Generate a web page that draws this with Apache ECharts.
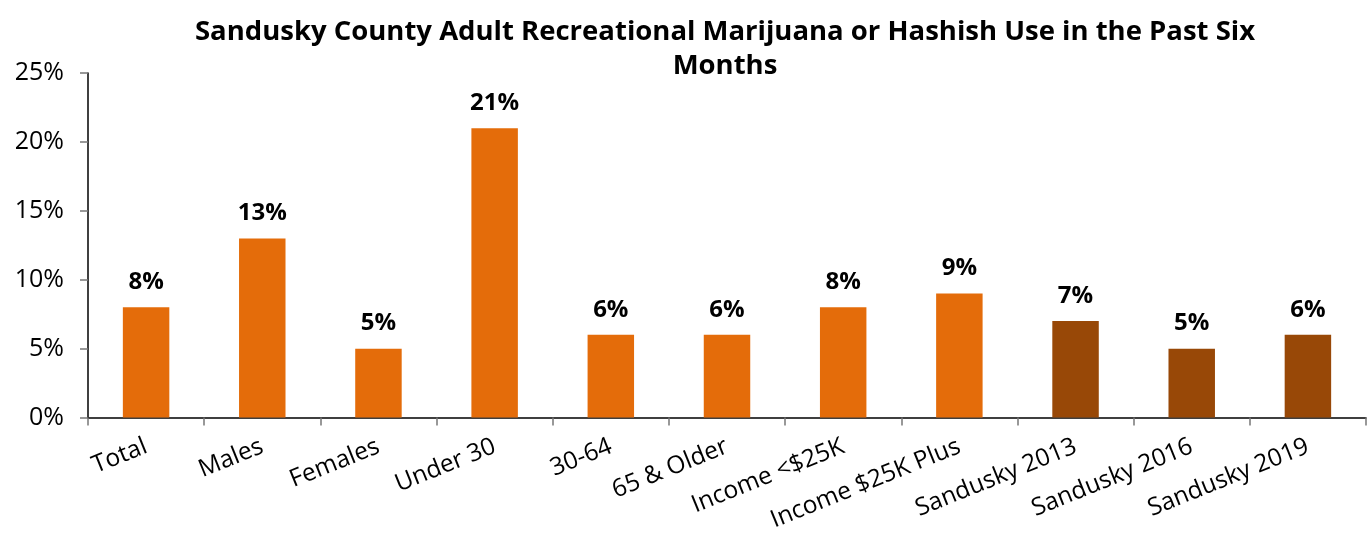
<!DOCTYPE html>
<html><head><meta charset="utf-8">
<script src="https://cdn.jsdelivr.net/npm/echarts@6/dist/echarts.min.js"></script>
<style>html,body{margin:0;padding:0;background:#fff}#c{width:1367px;height:534px}</style>
</head><body><div id="c"></div>
<script>
const categories = ["Total","Males","Females","Under 30","30-64","65 & Older","Income <$25K","Income $25K Plus","Sandusky 2013","Sandusky 2016","Sandusky 2019"];
const values = [8,13,5,21,6,6,8,9,7,5,6];
const isTrend = [false,false,false,false,false,false,false,false,true,true,true];
const yTicks = [0,5,10,15,20,25];
const titleText = "Sandusky County Adult Recreational Marijuana or Hashish Use in the Past Six\nMonths";
const ORANGE = "#E46C0A", BROWN = "#984807";
const FONT = "'Open Sans', 'Noto Sans', sans-serif";
const chart = echarts.init(document.getElementById('c'), null, {renderer:'canvas'});
chart.setOption({
  animation:false,
  title:{text:titleText,left:720,textAlign:'center',top:10,textStyle:{fontFamily:FONT,fontWeight:'bold',fontSize:27.5,color:'#000',lineHeight:34}},
  grid:{left:88,right:1,top:73,bottom:113,containLabel:false},
  xAxis:{type:'category',data:categories,
    axisLine:{lineStyle:{color:'#000',width:1.5}},
    axisTick:{show:true,alignWithLabel:false,length:8,lineStyle:{color:'#777',width:1.5}},
    axisLabel:{rotate:22,interval:0,fontFamily:FONT,fontSize:24.5,color:'#000',margin:28}},
  yAxis:{type:'value',min:yTicks[0],max:yTicks[yTicks.length-1],interval:5,
    axisLine:{show:true,lineStyle:{color:'#000',width:1.5}},
    axisTick:{show:true,inside:false,length:8,lineStyle:{color:'#777',width:1.5}},
    splitLine:{show:false},
    axisLabel:{formatter:'{value}%',fontFamily:FONT,fontSize:25,color:'#000',margin:24}},
  series:[{type:'bar',barWidth:'40%',
    data:values.map((v,i)=>({value:v,itemStyle:{color:isTrend[i]?BROWN:ORANGE}})),
    label:{show:true,position:'top',distance:13,formatter:'{c}%',fontFamily:FONT,fontWeight:'bold',fontSize:24,color:'#000'}}]
});
</script></body></html>
